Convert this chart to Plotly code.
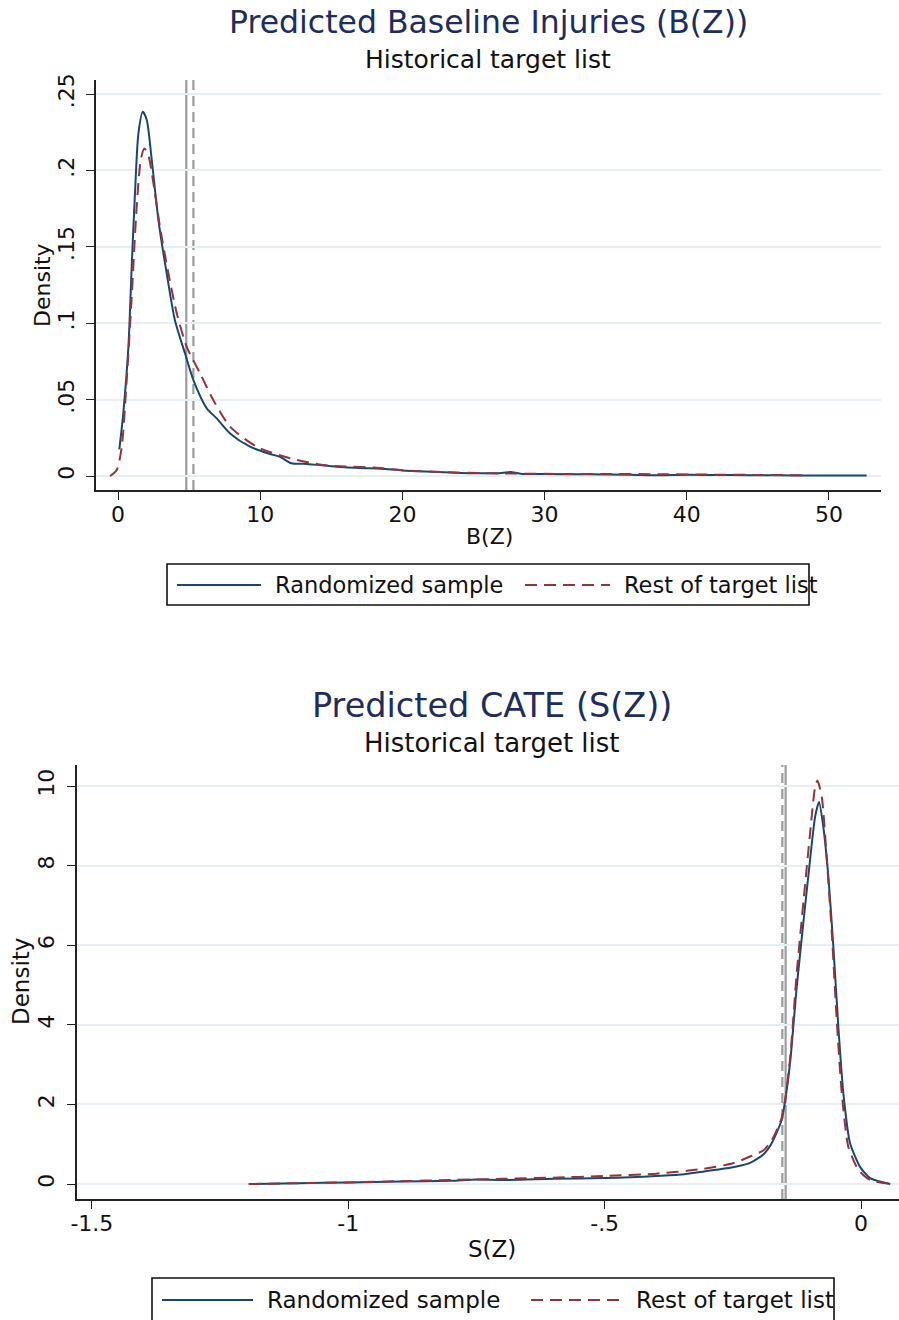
import plotly.graph_objects as go

# ---------------- data ----------------
# Top panel: Predicted Baseline Injuries B(Z)
bz_rand_x = [0.09, 0.37, 0.73, 0.96, 1.2, 1.43, 1.74, 2.02, 2.37, 2.84, 3.42, 4.0, 4.71, 5.3,
             6.24, 6.94, 7.88, 9.28, 10.69, 11.39, 12.2, 13.27, 15.38, 17.0, 18.5, 20.0, 22.0,
             25.0, 27.0, 27.6, 28.3, 30.0, 33.0, 36.0, 38.0, 40.0, 43.0, 46.0, 50.0, 52.65]
bz_rand_y = [0.0175, 0.041, 0.0846, 0.137, 0.187, 0.224, 0.2384, 0.233, 0.207, 0.1675, 0.1327,
             0.102, 0.0803, 0.0628, 0.0443, 0.0377, 0.0279, 0.0192, 0.0144, 0.0126, 0.0083,
             0.0079, 0.0061, 0.0052, 0.0048, 0.0036, 0.0028, 0.0018, 0.0020, 0.0026, 0.0015,
             0.0013, 0.0011, 0.0009, 0.0005, 0.0008, 0.0006, 0.0005, 0.0003, 0.0003]
bz_rest_x = [-0.56, -0.09, 0.26, 0.61, 0.96, 1.31, 1.6, 1.85, 2.13, 2.49, 2.95, 3.54, 4.13,
             4.83, 5.77, 6.7, 7.88, 9.75, 12.1, 14.4, 16.0, 18.0, 20.0, 23.0, 26.0, 30.0,
             34.0, 38.0, 42.0, 45.0, 48.6]
bz_rest_y = [0.0, 0.004, 0.019, 0.063, 0.117, 0.176, 0.207, 0.2144, 0.21, 0.1915, 0.163,
             0.1327, 0.1065, 0.0846, 0.0672, 0.0497, 0.0323, 0.0192, 0.0116, 0.0072, 0.0062,
             0.0055, 0.0038, 0.0025, 0.0018, 0.0014, 0.0013, 0.0012, 0.0009, 0.0007, 0.0005]
bz_mean_rand = 4.8
bz_mean_rest = 5.3
bz_yticks = [0, 0.05, 0.1, 0.15, 0.2, 0.25]
bz_yticklabels = ["0", ".05", ".1", ".15", ".2", ".25"]
bz_xticks = [0, 10, 20, 30, 40, 50]
bz_xticklabels = ["0", "10", "20", "30", "40", "50"]

# Bottom panel: Predicted CATE S(Z)
sz_rand_x = [-1.194, -1.1, -1.0, -0.9, -0.8, -0.75, -0.7, -0.6, -0.5, -0.45, -0.4, -0.35,
             -0.314, -0.25, -0.2165, -0.19, -0.174, -0.155, -0.148, -0.138, -0.1255, -0.112,
             -0.0995, -0.0897, -0.082, -0.0735, -0.0636, -0.054, -0.0443, -0.0345, -0.0215,
             -0.002, 0.0176, 0.057]
sz_rand_y = [0.0, 0.02, 0.04, 0.06, 0.08, 0.11, 0.1, 0.13, 0.15, 0.17, 0.2, 0.24, 0.3, 0.42,
             0.53, 0.75, 1.03, 1.6, 2.1, 3.1, 4.95, 6.63, 8.14, 9.22, 9.6, 8.97, 7.7, 5.96,
             3.95, 2.28, 1.03, 0.43, 0.15, 0.0]
sz_rest_x = [-1.194, -1.1, -1.0, -0.9, -0.8, -0.7, -0.6, -0.5, -0.4, -0.314, -0.25, -0.2165,
             -0.19, -0.174, -0.155, -0.148, -0.138, -0.1255, -0.112, -0.0995, -0.0897, -0.085,
             -0.0765, -0.0667, -0.057, -0.0474, -0.0376, -0.0247, -0.005, 0.0176, 0.06]
sz_rest_y = [0.0, 0.02, 0.04, 0.07, 0.1, 0.13, 0.16, 0.2, 0.26, 0.37, 0.52, 0.69, 0.85, 1.1,
             1.65, 2.1, 3.2, 5.3, 7.14, 8.8, 9.97, 10.14, 9.72, 8.14, 6.3, 4.12, 2.28, 0.93,
             0.35, 0.1, 0.0]
sz_mean_rand = -0.1471
sz_mean_rest = -0.1535
sz_yticks = [0, 2, 4, 6, 8, 10]
sz_yticklabels = ["0", "2", "4", "6", "8", "10"]
sz_xticks = [-1.5, -1, -0.5, 0]
sz_xticklabels = ["-1.5", "-1", "-.5", "0"]

series_names = ["Randomized sample", "Rest of target list"]

# ---------------- styling ----------------
W, H = 899, 1320
FONT = "DejaVu Sans"
BLUE = "#1a476f"
RED = "#90353b"
GRAY = "#9c9c9c"
NAVY = "#1e2d5c"
GRID = "#e6eff1"
DASH = "12px,7px"


def px(x):
    return x / W


def py(y):
    return 1 - y / H


fig = go.Figure()

fig.add_trace(go.Scatter(x=bz_rand_x, y=bz_rand_y, mode="lines", name=series_names[0],
                         line=dict(color=BLUE, width=2, shape="spline", smoothing=0.7),
                         xaxis="x", yaxis="y", showlegend=False))
fig.add_trace(go.Scatter(x=bz_rest_x, y=bz_rest_y, mode="lines", name=series_names[1],
                         line=dict(color=RED, width=2, dash=DASH, shape="spline", smoothing=0.7),
                         xaxis="x", yaxis="y", showlegend=False))
fig.add_trace(go.Scatter(x=sz_rand_x, y=sz_rand_y, mode="lines", name=series_names[0],
                         line=dict(color=BLUE, width=2, shape="spline", smoothing=0.6),
                         xaxis="x2", yaxis="y2", showlegend=False))
fig.add_trace(go.Scatter(x=sz_rest_x, y=sz_rest_y, mode="lines", name=series_names[1],
                         line=dict(color=RED, width=2, dash=DASH, shape="spline", smoothing=0.6),
                         xaxis="x2", yaxis="y2", showlegend=False))

# mean lines
shapes = []
for xr, yr, val, dash in [("x", "y", bz_mean_rand, "solid"), ("x", "y", bz_mean_rest, "10px,6px"),
                          ("x2", "y2", sz_mean_rand, "solid"), ("x2", "y2", sz_mean_rest, "10px,6px")]:
    shapes.append(dict(type="line", xref=xr, yref=yr + " domain", x0=val, x1=val, y0=0, y1=1,
                       line=dict(color=GRAY, width=2.2, dash=dash), layer="below"))

axis_common = dict(showline=True, linecolor="#222222", linewidth=1.6, ticks="outside",
                   ticklen=8, tickwidth=1.4, tickcolor="#222222", zeroline=False,
                   automargin=False,
                   tickfont=dict(family=FONT, size=22, color="#111111"))

layout = dict(
    template="none",
    width=W, height=H, margin=dict(l=0, r=0, t=0, b=0, pad=0, autoexpand=False),
    paper_bgcolor="white", plot_bgcolor="white",
    font=dict(family=FONT, color="#111111"),
    xaxis=dict(domain=[px(96), px(881)], range=[-1.55, 53.66], anchor="y",
               tickvals=bz_xticks, ticktext=bz_xticklabels, showgrid=False,
               ticklabelstandoff=-4, **axis_common),
    yaxis=dict(domain=[py(490), py(80)], range=[-0.00916, 0.2592], anchor="x",
               tickvals=bz_yticks, ticktext=bz_yticklabels, tickangle=-90,
               showgrid=True, gridcolor=GRID, gridwidth=1.5, ticklabelstandoff=3, **axis_common),
    xaxis2=dict(domain=[px(77), 1.0], range=[-1.529, 0.074], anchor="y2",
                tickvals=sz_xticks, ticktext=sz_xticklabels, showgrid=False,
                ticklabelstandoff=-4, **axis_common),
    yaxis2=dict(domain=[py(1199), py(765)], range=[-0.377, 10.53], anchor="x2",
                tickvals=sz_yticks, ticktext=sz_yticklabels, tickangle=-90,
                showgrid=True, gridcolor=GRID, gridwidth=1.5, ticklabelstandoff=4, **axis_common),
    showlegend=False,
)

annotations = []


def ann(text, x, y, size, color="#111111", angle=0, xanchor="center"):
    annotations.append(dict(text=text, x=px(x), y=py(y), xref="paper", yref="paper",
                            showarrow=False, xanchor=xanchor, yanchor="middle", textangle=angle,
                            font=dict(family=FONT, size=size, color=color)))


# titles
ann("Predicted Baseline Injuries (B(Z))", 488, 22, 31.5, NAVY)
ann("Historical target list", 488, 60, 25)
ann("B(Z)", 489, 537, 22)
ann("Density", 42, 285, 22, angle=-90)
ann("Predicted CATE (S(Z))", 492, 705, 33.5, NAVY)
ann("Historical target list", 492, 743, 26)
ann("S(Z)", 492, 1249, 23)
ann("Density", 21, 982, 23, angle=-90)


# legends (drawn manually to mimic the boxed Stata legend)
def legend_box(x0, x1, y0, y1, ly, b0, b1, r0, r1, t1x, t2x, size):
    shapes.append(dict(type="rect", xref="paper", yref="paper", x0=px(x0), x1=px(x1),
                       y0=py(y1), y1=py(y0), line=dict(color="#111111", width=1.6),
                       fillcolor="rgba(0,0,0,0)"))
    shapes.append(dict(type="line", xref="paper", yref="paper", x0=px(b0), x1=px(b1),
                       y0=py(ly), y1=py(ly), line=dict(color=BLUE, width=2.2)))
    shapes.append(dict(type="line", xref="paper", yref="paper", x0=px(r0), x1=px(r1),
                       y0=py(ly), y1=py(ly), line=dict(color=RED, width=2.2, dash=DASH)))
    ann(series_names[0], t1x, ly, size, xanchor="left")
    ann(series_names[1], t2x, ly, size, xanchor="left")


legend_box(167, 809, 564, 605, 585, 177, 261, 525, 610, 273, 622, 22.5)
legend_box(152, 834, 1278, 1340, 1300, 162, 253, 531, 622, 265, 634, 23)

layout["shapes"] = shapes
layout["annotations"] = annotations
fig.update_layout(**layout)

fig.write_html("out.html", config={"displayModeBar": False},
               post_script="document.body.style.margin='0';document.body.style.overflow='hidden';")
